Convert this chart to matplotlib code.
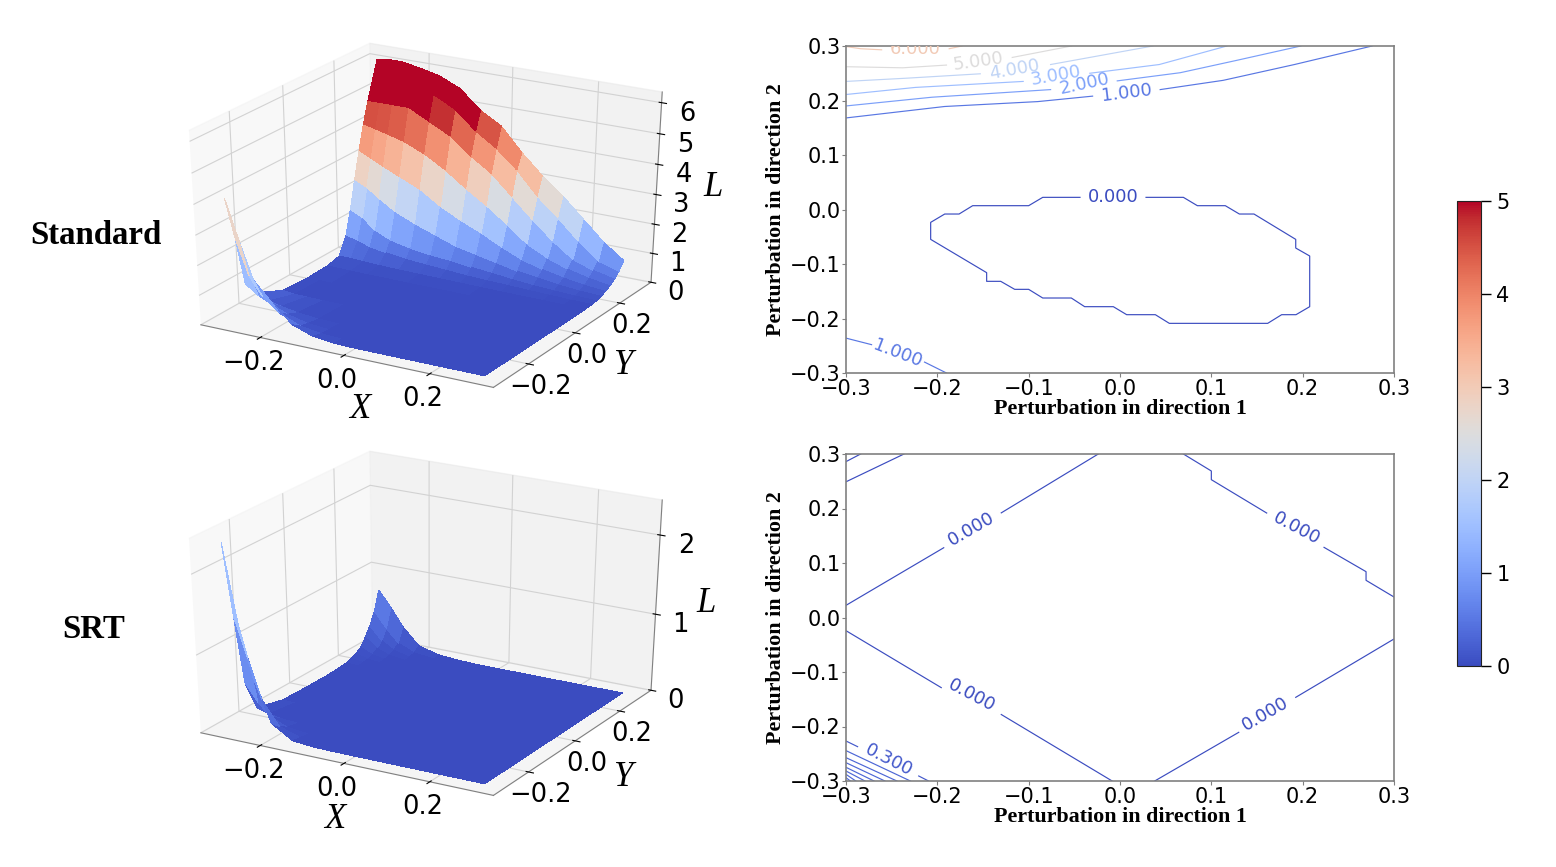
"""
Superficies de perdida y curvas de nivel: Standard vs SRT.
"""
import numpy as np
import matplotlib
matplotlib.use('Agg')
import matplotlib.pyplot as plt
from mpl_toolkits.mplot3d import Axes3D  # noqa

W, H = 1556, 867
NAN = float('nan')

plt.rcParams['grid.color'] = '#d2d2d2'
plt.rcParams['axes.edgecolor'] = '#808080'

# Rejilla de las superficies (no uniforme, mas densa junto al borde y=0.3)
x_grid = [-0.3, -0.27, -0.24, -0.2, -0.15, -0.1, -0.05, 0.0, 0.05, 0.1, 0.15, 0.2, 0.25, 0.3]
y_grid = [-0.3, -0.27, -0.24, -0.2, -0.1, 0.0, 0.08, 0.13, 0.16, 0.18, 0.2, 0.22, 0.24, 0.26, 0.28, 0.3]

z_standard = [
    [4.1, 2.8, 1.6, 1.0, 0.35, 0.1, 0.02, 0, 0, 0, 0, 0, 0, 0],
    [2.7, 1.5, 0.9, 0.45, 0.15, 0.04, 0, 0, 0, 0, 0, 0, 0, 0],
    [1.0, 0.7, 0.5, 0.25, 0.08, 0.02, 0, 0, 0, 0, 0, 0, 0, 0],
    [0.5, 0.3, 0.2, 0.1, 0.03, 0.01, 0, 0, 0, 0, 0, 0, 0, 0],
    [0.08, 0.03, 0.02, 0.01, 0, 0, 0, 0, 0, 0, 0, 0, 0, 0],
    [0.02, 0.01, 0, 0, 0, 0, 0, 0, 0, 0, 0, 0, 0, 0],
    [0.05, 0.04, 0.03, 0.02, 0.02, 0.01, 0.01, 0.01, 0, 0, 0, 0, 0, 0],
    [0.15, 0.15, 0.12, 0.1, 0.08, 0.07, 0.06, 0.05, 0.04, 0.03, 0.02, 0.02, 0.01, 0.01],
    [0.75, 0.65, 0.5, 0.4, 0.3, 0.25, 0.2, 0.15, 0.12, 0.1, 0.07, 0.05, 0.03, 0.02],
    [1.55, 1.35, 1.0, 0.75, 0.6, 0.5, 0.45, 0.35, 0.28, 0.2, 0.14, 0.1, 0.07, 0.05],
    [2.5, 2.3, 2.0, 1.65, 1.35, 1.1, 0.85, 0.7, 0.55, 0.4, 0.3, 0.2, 0.14, 0.1],
    [3.4, 3.2, 3.0, 2.75, 2.45, 2.0, 1.65, 1.35, 1.0, 0.7, 0.5, 0.35, 0.24, 0.17],
    [4.2, 4.1, 4.0, 3.85, 3.55, 3.15, 2.65, 2.2, 1.7, 1.15, 0.8, 0.55, 0.38, 0.27],
    [4.9, 4.9, 4.9, 4.9, 4.55, 4.2, 3.65, 3.2, 2.55, 1.9, 1.3, 0.8, 0.55, 0.4],
    [5.5, 5.6, 5.6, 5.6, 5.35, 5.0, 4.4, 3.95, 3.35, 2.6, 2.0, 1.35, 0.78, 0.58],
    [6.1, 6.15, 6.15, 6.05, 5.9, 5.6, 5.0, 4.6, 3.85, 3.2, 2.65, 2.0, 1.35, 0.85],
]

z_srt = [
    [2.35, 1.4, 0.75, 0.2, 0.03, 0.005, 0.001, 0, 0, 0, 0, 0, 0, 0],
    [1.4, 0.9, 0.4, 0.1, 0.01, 0, 0, 0, 0, 0, 0, 0, 0, 0],
    [0.5, 0.28, 0.12, 0.03, 0, 0, 0, 0, 0, 0, 0, 0, 0, 0],
    [0.1, 0.05, 0.02, 0.005, 0, 0, 0, 0, 0, 0, 0, 0, 0, 0],
    [0.01, 0, 0, 0, 0, 0, 0, 0, 0, 0, 0, 0, 0, 0],
    [0, 0, 0, 0, 0, 0, 0, 0, 0, 0, 0, 0, 0, 0],
    [0, 0, 0, 0, 0, 0, 0, 0, 0, 0, 0, 0, 0, 0],
    [0.01, 0, 0, 0, 0, 0, 0, 0, 0, 0, 0, 0, 0, 0],
    [0.02, 0.01, 0, 0, 0, 0, 0, 0, 0, 0, 0, 0, 0, 0],
    [0.04, 0.02, 0.01, 0, 0, 0, 0, 0, 0, 0, 0, 0, 0, 0],
    [0.07, 0.03, 0.01, 0, 0, 0, 0, 0, 0, 0, 0, 0, 0, 0],
    [0.12, 0.05, 0.02, 0, 0, 0, 0, 0, 0, 0, 0, 0, 0, 0],
    [0.22, 0.1, 0.04, 0.01, 0, 0, 0, 0, 0, 0, 0, 0, 0, 0],
    [0.34, 0.17, 0.07, 0.02, 0.005, 0, 0, 0, 0, 0, 0, 0, 0, 0],
    [0.5, 0.3, 0.13, 0.04, 0.01, 0, 0, 0, 0, 0, 0, 0, 0, 0],
    [0.75, 0.55, 0.32, 0.1, 0.03, 0.01, 0, 0, 0, 0, 0, 0, 0, 0],
]

# Curvas de nivel, panel superior (x, y, NAN = hueco de la etiqueta)
top_0_x = [0.0285, 0.0694, 0.0847, 0.1153, 0.1307, 0.1467, 0.1924, 0.1924, 0.2077, 0.2077, 0.1927, 0.177,
           0.1617, 0.054, 0.0387, 0.0073, -0.0073, -0.0387, -0.0533, -0.0846, -0.1, -0.1153, -0.1306, -0.146,
           -0.146, -0.2073, -0.2073, -0.1919, -0.1762, -0.1613, -0.1, -0.0846, -0.0438]
top_0_y = [0.0223, 0.0223, 0.007, 0.007, -0.0083, -0.0083, -0.0548, -0.0707, -0.0853, -0.1783, -0.193, -0.193,
           -0.2089, -0.2089, -0.193, -0.193, -0.1783, -0.1783, -0.1624, -0.1624, -0.1465, -0.1465, -0.1318, -0.1318,
           -0.1159, -0.0548, -0.0236, -0.0083, -0.0083, 0.007, 0.007, 0.0223, 0.0223]
top_1_x = [-0.3, -0.192, -0.09, -0.03, NAN, 0.044, 0.113, 0.191, 0.276]
top_1_y = [0.168, 0.189, 0.198, 0.208, NAN, 0.22, 0.237, 0.266, 0.3]
top_1b_x = [-0.3, -0.272, NAN, -0.214, -0.19]
top_1b_y = [-0.236, -0.248, NAN, -0.28, -0.3]
top_2_x = [-0.3, -0.206, -0.076, NAN, -0.003, 0.066, 0.126, 0.198]
top_2_y = [0.19, 0.206, 0.22, NAN, 0.236, 0.251, 0.273, 0.3]
top_3_x = [-0.3, -0.224, -0.106, NAN, -0.033, 0.043, 0.117]
top_3_y = [0.211, 0.224, 0.235, NAN, 0.25, 0.266, 0.3]
top_4_x = [-0.3, -0.233, -0.153, NAN, -0.076, 0.036]
top_4_y = [0.235, 0.241, 0.249, NAN, 0.266, 0.3]
top_5_x = [-0.3, -0.238, -0.19, NAN, -0.118, -0.053]
top_5_y = [0.262, 0.26, 0.265, NAN, 0.279, 0.3]
top_6_x = [-0.3, -0.284, -0.261, NAN, -0.187, -0.173]
top_6_y = [0.299, 0.295, 0.293, NAN, 0.295, 0.3]

# Curvas de nivel, panel inferior
bot_a_x = [-0.3, -0.284]
bot_a_y = [0.286, 0.3]
bot_b_x = [-0.3, -0.2365]
bot_b_y = [0.249, 0.3]
bot_c_x = [-0.3, -0.193, NAN, -0.13, -0.0238]
bot_c_y = [0.0223, 0.128, NAN, 0.192, 0.3]
bot_d_x = [0.0694, 0.1, 0.1, 0.1606, NAN, 0.2234, 0.2694, 0.2694, 0.3]
bot_d_y = [0.3, 0.2688, 0.2529, 0.1917, NAN, 0.1287, 0.0841, 0.0682, 0.0376]
bot_e_x = [-0.3, -0.1957, NAN, -0.13, -0.0086]
bot_e_y = [-0.0242, -0.1287, NAN, -0.178, -0.3]
bot_f_x = [0.038, 0.13, NAN, 0.1924, 0.3]
bot_f_y = [-0.3, -0.2107, NAN, -0.1465, -0.0394]
bot_g_x = [-0.3, -0.2873, NAN, -0.2204, -0.2096]
bot_g_y = [-0.2266, -0.237, NAN, -0.2908, -0.3]
corner_y0 = [-0.2443, -0.2572, -0.2664, -0.2749, -0.2817, -0.2878, -0.2939]
corner_x1 = [-0.2295, -0.2443, -0.2574, -0.2693, -0.2793, -0.2893, -0.2952]

# Nivel (para el color) de cada curva
top_lines = [(top_0_x, top_0_y, 0), (top_1_x, top_1_y, 1), (top_1b_x, top_1b_y, 1), (top_2_x, top_2_y, 2),
             (top_3_x, top_3_y, 3), (top_4_x, top_4_y, 4), (top_5_x, top_5_y, 5), (top_6_x, top_6_y, 6)]
bot_lines = [(bot_a_x, bot_a_y, 0), (bot_b_x, bot_b_y, 0), (bot_c_x, bot_c_y, 0), (bot_d_x, bot_d_y, 0),
             (bot_e_x, bot_e_y, 0), (bot_f_x, bot_f_y, 0), (bot_g_x, bot_g_y, 0.3)]

# Etiquetas: texto, x, y, rotacion, nivel
top_labels = [('0.000', -0.0077, 0.023, 0, 0), ('1.000', 0.007, 0.214, 7, 1), ('2.000', -0.039, 0.23, 12, 2),
              ('3.000', -0.07, 0.245, 10, 3), ('4.000', -0.116, 0.257, 10, 4), ('5.000', -0.155, 0.271, 8, 5),
              ('6.000', -0.224, 0.294, 0, 6), ('1.000', -0.244, -0.265, -21, 1)]
bot_labels = [('0.000', -0.1625, 0.162, 30, 0), ('0.000', 0.1935, 0.1636, -28, 0), ('0.000', -0.162, -0.144, -28, 0),
              ('0.000', 0.159, -0.177, 30, 0), ('0.300', -0.253, -0.2615, -27, 0.3)]

xy_ticks = [-0.3, -0.2, -0.1, 0.0, 0.1, 0.2, 0.3]
cbar_ticks = [0, 1, 2, 3, 4, 5]


def caja(x0, y0, x1, y1):
    # pixeles de la imagen -> fraccion de figura
    return [x0 / W, 1 - y1 / H, (x1 - x0) / W, (y1 - y0) / H]


def texto(px, py, s, **kw):
    fig.text(px / W, 1 - py / H, s, ha='center', va='center', **kw)


def plot_superficie(pos, Z, zticks, zmax):
    ax = fig.add_axes(caja(*pos), projection='3d')
    # como en matplotlib antiguo: el cubo se estira hasta llenar la caja
    ax.apply_aspect = lambda position=None: None
    X, Y = np.meshgrid(x_grid, y_grid)
    ax.plot_surface(X, Y, np.array(Z, dtype=float), cmap='coolwarm', vmin=0, vmax=5,
                    linewidth=0, antialiased=False, rstride=1, cstride=1)
    ax.view_init(elev=30, azim=-60)
    ax.set_xlim(-0.345, 0.345)
    ax.set_ylim(-0.345, 0.345)
    ax.set_zlim(0, zmax)
    ax.set_box_aspect((1, 1, 1), zoom=0.91)
    ax.set_xticks([-0.2, 0.0, 0.2])
    ax.set_yticks([-0.2, 0.0, 0.2])
    ax.set_zticks(zticks)
    ax.tick_params(axis='x', labelsize=18.5, pad=0)
    ax.tick_params(axis='y', labelsize=18.5, pad=0)
    ax.tick_params(axis='z', labelsize=18.5, pad=3)
    ax.patch.set_alpha(0)
    return ax


def plot_contorno(pos, lineas, etiquetas):
    ax = fig.add_axes(caja(*pos))
    for xs, ys, nivel in lineas:
        ax.plot(xs, ys, color=plt.cm.coolwarm(nivel / 10), linewidth=0.85)
    for s, x, y, rot, nivel in etiquetas:
        ax.text(x, y, s, rotation=rot, rotation_mode='anchor', ha='center', va='center', fontsize=13,
                color=plt.cm.coolwarm(nivel / 10), clip_on=True)
    ax.set_xlim(-0.3, 0.3)
    ax.set_ylim(-0.3, 0.3)
    ax.set_xticks(xy_ticks)
    ax.set_yticks(xy_ticks)
    ax.tick_params(labelsize=15, length=3, width=0.8, color='#808080', pad=1)
    for sp in ax.spines.values():
        sp.set_linewidth(1.2)
    ax.set_xlabel('Perturbation in direction 1', family='Liberation Serif', fontweight='bold', fontsize=15.8, labelpad=0)
    ax.set_ylabel('Perturbation in direction 2', family='Liberation Serif', fontweight='bold', fontsize=15.8, labelpad=3)
    return ax


fig = plt.figure(figsize=(W / 100, H / 100), dpi=100)

plot_superficie((109, 10, 733, 420), z_standard, [0, 1, 2, 3, 4, 5, 6], 6.34)
plot_superficie((109, 418, 733, 828), z_srt, [0, 1, 2], 2.43)

ax_top = plot_contorno((846, 46, 1394, 373), top_lines, top_labels)
ax_bot = plot_contorno((846, 454, 1394, 781), bot_lines, bot_labels)
for y0, x1 in zip(corner_y0, corner_x1):
    ax_bot.plot([-0.3, x1], [y0, -0.3], color=plt.cm.coolwarm(0.06), linewidth=0.85)

cax = fig.add_axes(caja(1457, 201, 1481, 666))
sm = plt.cm.ScalarMappable(cmap='coolwarm', norm=plt.Normalize(0, 5))
cb = fig.colorbar(sm, cax=cax, ticks=cbar_ticks)
cb.ax.tick_params(labelsize=15, length=7, width=1, pad=4)
cb.outline.set_edgecolor('#222222')

serif = dict(family='Liberation Serif')
texto(96, 236, 'Standard', fontweight='bold', fontsize=23.7, **serif)
texto(94, 630, 'SRT', fontweight='bold', fontsize=23.7, **serif)
for px, py, s in [(360, 410, 'X'), (623, 366, 'Y'), (713, 188, 'L'), (335, 820, 'X'), (623, 778, 'Y'), (706, 604, 'L')]:
    texto(px, py, s, style='italic', fontsize=25, **serif)

fig.savefig('out.png', dpi=100)
